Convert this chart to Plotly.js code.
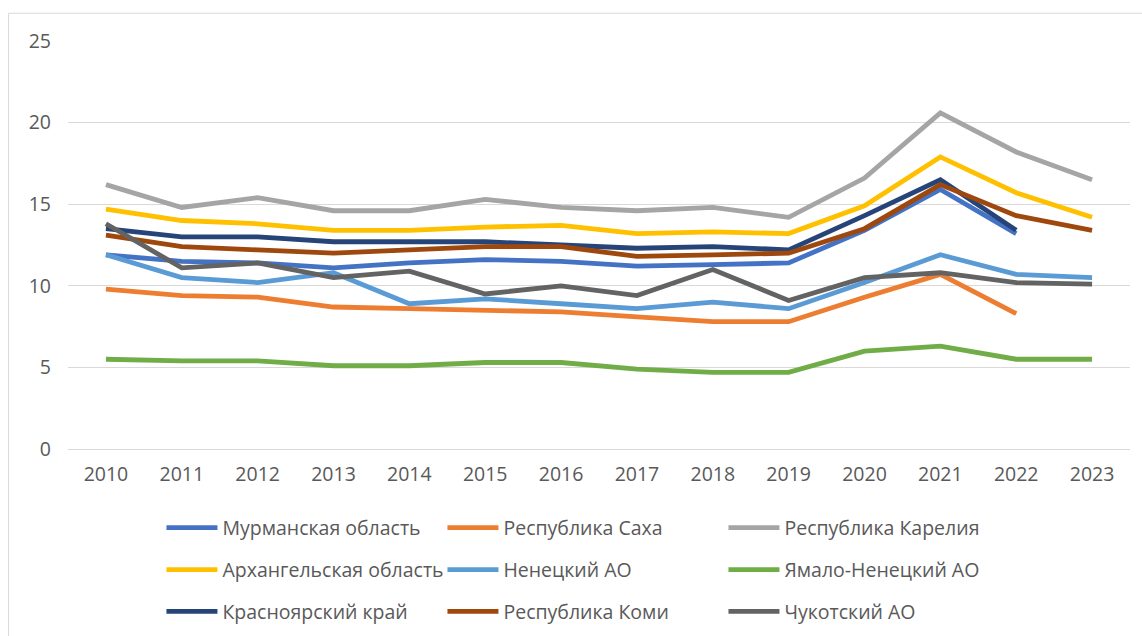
<!DOCTYPE html>
<html>
<head>
<meta charset="utf-8">
<script src="https://cdn.plot.ly/plotly-3.0.1.min.js"></script>
<style>html,body{margin:0;padding:0;background:#fff;}#chart{width:1142px;height:636px;}</style>
</head>
<body>
<div id="chart"></div>
<script>
var years = ["2010","2011","2012","2013","2014","2015","2016","2017","2018","2019","2020","2021","2022","2023"];
var seriesNames = ["Мурманская область","Республика Саха","Республика Карелия","Архангельская область","Ненецкий АО","Ямало-Ненецкий АО","Красноярский край","Республика Коми","Чукотский АО"];
var murmansk    = [11.9, 11.5, 11.4, 11.1, 11.4, 11.6, 11.5, 11.2, 11.3, 11.4, 13.4, 15.9, 13.2, null];
var sakha       = [9.8, 9.4, 9.3, 8.7, 8.6, 8.5, 8.4, 8.1, 7.8, 7.8, 9.3, 10.7, 8.3, null];
var karelia     = [16.2, 14.8, 15.4, 14.6, 14.6, 15.3, 14.8, 14.6, 14.8, 14.2, 16.6, 20.6, 18.2, 16.5];
var arkhangelsk = [14.7, 14.0, 13.8, 13.4, 13.4, 13.6, 13.7, 13.2, 13.3, 13.2, 14.9, 17.9, 15.7, 14.2];
var nenets      = [11.9, 10.5, 10.2, 10.8, 8.9, 9.2, 8.9, 8.6, 9.0, 8.6, 10.2, 11.9, 10.7, 10.5];
var yamal       = [5.5, 5.4, 5.4, 5.1, 5.1, 5.3, 5.3, 4.9, 4.7, 4.7, 6.0, 6.3, 5.5, 5.5];
var krasnoyarsk = [13.5, 13.0, 13.0, 12.7, 12.7, 12.7, 12.5, 12.3, 12.4, 12.2, 14.3, 16.5, 13.4, null];
var komi        = [13.1, 12.4, 12.2, 12.0, 12.2, 12.4, 12.4, 11.8, 11.9, 12.0, 13.5, 16.2, 14.3, 13.4];
var chukotka    = [13.8, 11.1, 11.4, 10.5, 10.9, 9.5, 10.0, 9.4, 11.0, 9.1, 10.5, 10.8, 10.2, 10.1];
var yTicks = [0, 5, 10, 15, 20, 25];

var allValues = [murmansk, sakha, karelia, arkhangelsk, nenets, yamal, krasnoyarsk, komi, chukotka];
var colors = ["#4472C4","#ED7D31","#A5A5A5","#FFC000","#5B9BD5","#70AD47","#264478","#9E480E","#636363"];
var legendIds = ["legend","legend","legend","legend2","legend2","legend2","legend3","legend3","legend3"];

var traces = allValues.map(function(vals, i){
  return {
    type: "scatter", mode: "lines", x: years, y: vals, name: seriesNames[i],
    line: {color: colors[i], width: 4.8},
    legend: legendIds[i], connectgaps: false, hoverinfo: "x+y+name"
  };
});

var fontFam = "'Open Sans', 'DejaVu Sans', sans-serif";
function legendCfg(yPos){
  return {
    orientation: "h", x: 0.088, xanchor: "left", y: yPos, yanchor: "middle",
    itemwidth: 51, entrywidth: 215, entrywidthmode: "pixels",
    font: {family: fontFam, size: 19.5, color: "#595959"},
    bgcolor: "rgba(0,0,0,0)", traceorder: "normal", itemclick: false
  };
}

var layout = {
  width: 1142, height: 636,
  margin: {l: 68, r: 12, t: 40.5, b: 187, pad: 0, autoexpand: false},
  paper_bgcolor: "#ffffff", plot_bgcolor: "#ffffff",
  font: {family: fontFam, color: "#595959"},
  xaxis: {
    type: "category", range: [-0.5, 13.5], showgrid: false, showline: false, zeroline: false,
    ticks: "", tickfont: {family: fontFam, size: 19.5, color: "#595959"}, ticklabelstandoff: 11,
    fixedrange: true
  },
  yaxis: {
    range: [0, 25], tickvals: yTicks, showgrid: true, gridcolor: "#D9D9D9", gridwidth: 1,
    zeroline: true, zerolinecolor: "#D9D9D9", zerolinewidth: 1, showline: false,
    ticks: "", tickfont: {family: fontFam, size: 19.5, color: "#595959"}, ticklabelstandoff: 16,
    fixedrange: true
  },
  showlegend: true,
  legend: legendCfg(-0.1935),
  legend2: legendCfg(-0.2963),
  legend3: legendCfg(-0.399),
  shapes: [{
    type: "rect", xref: "paper", yref: "paper",
    x0: -0.056, x1: 1.03, y0: -0.5, y1: 1.068,
    line: {color: "#D9D9D9", width: 1}, fillcolor: "rgba(0,0,0,0)", layer: "below"
  }]
};

Plotly.newPlot("chart", traces, layout, {displayModeBar: false, staticPlot: true});
</script>
</body>
</html>
